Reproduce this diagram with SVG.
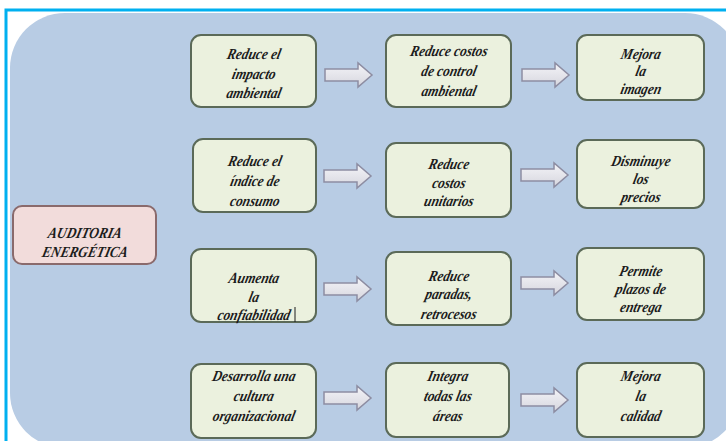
<svg xmlns="http://www.w3.org/2000/svg" width="726" height="441" viewBox="0 0 726 441">
<defs>
<style>
.box{fill:#ebf1de;stroke:#5b6a58;stroke-width:2}
.main{fill:#f2dcdb;stroke:#8a6a6c;stroke-width:2}
.t{font-family:"Liberation Serif","Times New Roman",serif;font-style:italic;font-weight:bold;font-size:14px;fill:#1c1c1c;text-anchor:middle}
.arr{fill:url(#ag);stroke:#8d8da2;stroke-width:1.5}
</style>
<linearGradient id="ag" x1="0" y1="0" x2="0" y2="1">
<stop offset="0" stop-color="#f4f4f8"/>
<stop offset="1" stop-color="#d6d6de"/>
</linearGradient>
<path id="arrow" class="arr" d="M0,-6 H33 V-12 L47,0 L33,12 V6 H0 Z"/>
</defs>
<rect width="726" height="441" fill="#ffffff"/>
<rect x="10" y="13" width="730" height="435" rx="55" ry="55" fill="#b8cce4"/>
<path d="M6,441 V10 H726" fill="none" stroke="#00b0f0" stroke-width="3"/>

<g id="connectors">
<use href="#arrow" x="325" y="75"/>
<use href="#arrow" x="522" y="75"/>
<use href="#arrow" x="324" y="176"/>
<use href="#arrow" x="521" y="175"/>
<use href="#arrow" x="324" y="289"/>
<use href="#arrow" x="521" y="283"/>
<use href="#arrow" x="324" y="398"/>
<use href="#arrow" x="521" y="400"/>
</g>

<g id="auditoria">
<rect class="main" x="13" y="206" width="143" height="58" rx="9"/>
<text class="t" transform="translate(84,238) skewX(-13) scale(0.95,1.1)">AUDITORIA</text>
<text class="t" transform="translate(84,257) skewX(-13) scale(0.95,1.1)">ENERGÉTICA</text>
</g>

<g id="r1n1">
<rect class="box" x="191" y="35" width="125" height="72" rx="10"/>
<text class="t" transform="translate(253,59) skewX(-13) scale(0.95,1.1)">Reduce el</text>
<text class="t" transform="translate(253,79) skewX(-13) scale(0.95,1.1)">impacto</text>
<text class="t" transform="translate(253,98) skewX(-13) scale(0.95,1.1)">ambiental</text>
</g>
<g id="r1n2">
<rect class="box" x="386" y="35" width="125" height="72" rx="10"/>
<text class="t" transform="translate(448,56) skewX(-13) scale(0.95,1.1)">Reduce costos</text>
<text class="t" transform="translate(448,76) skewX(-13) scale(0.95,1.1)">de control</text>
<text class="t" transform="translate(448,96) skewX(-13) scale(0.95,1.1)">ambiental</text>
</g>
<g id="r1n3">
<rect class="box" x="577" y="35" width="127" height="65" rx="10"/>
<text class="t" transform="translate(640,59) skewX(-13) scale(0.95,1.1)">Mejora</text>
<text class="t" transform="translate(640,76) skewX(-13) scale(0.95,1.1)">la</text>
<text class="t" transform="translate(640,94) skewX(-13) scale(0.95,1.1)">imagen</text>
</g>

<g id="r2n1">
<rect class="box" x="193" y="139" width="123" height="73" rx="10"/>
<text class="t" transform="translate(254,166) skewX(-13) scale(0.95,1.1)">Reduce el</text>
<text class="t" transform="translate(254,186) skewX(-13) scale(0.95,1.1)">índice de</text>
<text class="t" transform="translate(254,206) skewX(-13) scale(0.95,1.1)">consumo</text>
</g>
<g id="r2n2">
<rect class="box" x="386" y="143" width="125" height="74" rx="10"/>
<text class="t" transform="translate(448,169) skewX(-13) scale(0.95,1.1)">Reduce</text>
<text class="t" transform="translate(448,188) skewX(-13) scale(0.95,1.1)">costos</text>
<text class="t" transform="translate(448,206) skewX(-13) scale(0.95,1.1)">unitarios</text>
</g>
<g id="r2n3">
<rect class="box" x="577" y="140" width="127" height="68" rx="10"/>
<text class="t" transform="translate(640,166) skewX(-13) scale(0.95,1.1)">Disminuye</text>
<text class="t" transform="translate(640,184) skewX(-13) scale(0.95,1.1)">los</text>
<text class="t" transform="translate(640,202) skewX(-13) scale(0.95,1.1)">precios</text>
</g>

<g id="r3n1">
<rect class="box" x="191" y="249" width="125" height="73" rx="10"/>
<text class="t" transform="translate(253,283) skewX(-13) scale(0.95,1.1)">Aumenta</text>
<text class="t" transform="translate(253,302) skewX(-13) scale(0.95,1.1)">la</text>
<text class="t" transform="translate(253,320) skewX(-13) scale(0.95,1.1)">confiabilidad</text>
<line x1="295" y1="307" x2="295" y2="322" stroke="#1c1c1c" stroke-width="1"/>
</g>
<g id="r3n2">
<rect class="box" x="386" y="252" width="125" height="73" rx="10"/>
<text class="t" transform="translate(448,281) skewX(-13) scale(0.95,1.1)">Reduce</text>
<text class="t" transform="translate(448,299) skewX(-13) scale(0.95,1.1)">paradas,</text>
<text class="t" transform="translate(448,319) skewX(-13) scale(0.95,1.1)">retrocesos</text>
</g>
<g id="r3n3">
<rect class="box" x="577" y="248" width="127" height="72" rx="10"/>
<text class="t" transform="translate(640,276) skewX(-13) scale(0.95,1.1)">Permite</text>
<text class="t" transform="translate(640,294) skewX(-13) scale(0.95,1.1)">plazos de</text>
<text class="t" transform="translate(640,312) skewX(-13) scale(0.95,1.1)">entrega</text>
</g>

<g id="r4n1">
<rect class="box" x="191" y="364" width="125" height="74" rx="10"/>
<text class="t" transform="translate(253,381) skewX(-13) scale(0.95,1.1)">Desarrolla una</text>
<text class="t" transform="translate(253,401) skewX(-13) scale(0.95,1.1)">cultura</text>
<text class="t" transform="translate(253,421) skewX(-13) scale(0.95,1.1)">organizacional</text>
</g>
<g id="r4n2">
<rect class="box" x="386" y="363" width="123" height="74" rx="10"/>
<text class="t" transform="translate(447,381) skewX(-13) scale(0.95,1.1)">Integra</text>
<text class="t" transform="translate(447,401) skewX(-13) scale(0.95,1.1)">todas las</text>
<text class="t" transform="translate(447,421) skewX(-13) scale(0.95,1.1)">áreas</text>
</g>
<g id="r4n3">
<rect class="box" x="577" y="363" width="127" height="74" rx="10"/>
<text class="t" transform="translate(640,381) skewX(-13) scale(0.95,1.1)">Mejora</text>
<text class="t" transform="translate(640,401) skewX(-13) scale(0.95,1.1)">la</text>
<text class="t" transform="translate(640,421) skewX(-13) scale(0.95,1.1)">calidad</text>
</g>
</svg>
